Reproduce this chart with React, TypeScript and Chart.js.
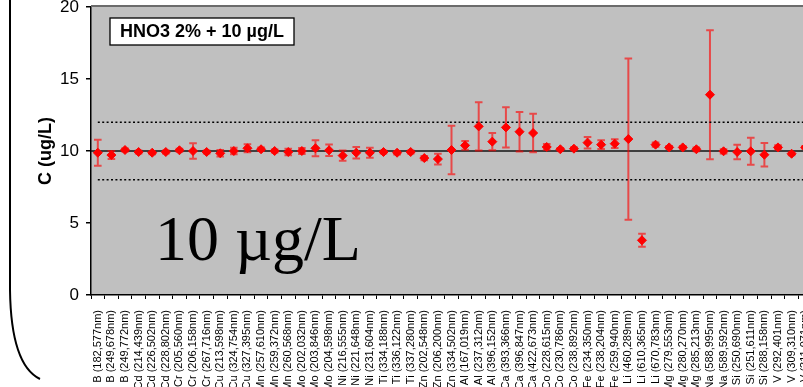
import React, { useEffect, useRef } from 'react';
import { Chart, registerables } from 'chart.js';

Chart.register(...registerables);

const categories = [
  'B (182,577nm)', 'B (249,678nm)', 'B (249,772nm)',
  'Cd (214,439nm)', 'Cd (226,502nm)', 'Cd (228,802nm)',
  'Cr (205,560nm)', 'Cr (206,158nm)', 'Cr (267,716nm)',
  'Cu (213,598nm)', 'Cu (324,754nm)', 'Cu (327,395nm)',
  'Mn (257,610nm)', 'Mn (259,372nm)', 'Mn (260,568nm)',
  'Mo (202,032nm)', 'Mo (203,846nm)', 'Mo (204,598nm)',
  'Ni (216,555nm)', 'Ni (221,648nm)', 'Ni (231,604nm)',
  'Ti (334,188nm)', 'Ti (336,122nm)', 'Ti (337,280nm)',
  'Zn (202,548nm)', 'Zn (206,200nm)', 'Zn (334,502nm)',
  'Al (167,019nm)', 'Al (237,312nm)', 'Al (396,152nm)',
  'Ca (393,366nm)', 'Ca (396,847nm)', 'Ca (422,673nm)',
  'Co (228,615nm)', 'Co (230,786nm)', 'Co (238,892nm)',
  'Fe (234,350nm)', 'Fe (238,204nm)', 'Fe (259,940nm)',
  'Li (460,289nm)', 'Li (610,365nm)', 'Li (670,783nm)',
  'Mg (279,553nm)', 'Mg (280,270nm)', 'Mg (285,213nm)',
  'Na (588,995nm)', 'Na (589,592nm)',
  'Si (250,690nm)', 'Si (251,611nm)', 'Si (288,158nm)',
  'V (292,401nm)', 'V (309,310nm)', 'V (311,071nm)',
];

const measured = [
  9.88, 9.72, 10.07,
  9.93, 9.88, 9.93,
  10.05, 10.0, 9.93,
  9.84, 10.0, 10.19,
  10.12, 10.0, 9.93,
  10.0, 10.19, 10.05,
  9.68, 9.88, 9.88,
  9.93, 9.88, 9.93,
  9.51, 9.44, 10.07,
  10.39, 11.71, 10.65,
  11.64, 11.34, 11.25,
  10.28, 10.12, 10.16,
  10.58, 10.44, 10.51,
  10.83, 3.8, 10.44,
  10.25, 10.25, 10.12,
  13.91, 9.98,
  9.93, 9.98, 9.74,
  10.25, 9.81, 10.25,
];

const errors = [
  0.9, 0.28, 0.1,
  0.1, 0.1, 0.1,
  0.1, 0.53, 0.1,
  0.23, 0.23, 0.28,
  0.12, 0.1, 0.23,
  0.2, 0.55, 0.4,
  0.35, 0.4, 0.35,
  0.1, 0.12, 0.1,
  0.15, 0.37, 1.69,
  0.3, 1.67, 0.6,
  1.39, 1.37, 1.34,
  0.2, 0.08, 0.1,
  0.4, 0.3, 0.3,
  5.6, 0.45, 0.15,
  0.1, 0.1, 0.13,
  4.48, 0.15,
  0.5, 0.94, 0.82,
  0.15, 0.1, 0.1,
];

const targetValue = 10;
const upperLimit = 12;
const lowerLimit = 8;
const yMin = 0;
const yMax = 20;
const yStep = 5;

const boxLabel = 'HNO3 2% + 10 µg/L';
const bigLabel = '10 µg/L';
const yTitle = 'C (ug/L)';

const SANS = '"Liberation Sans", Arial, Helvetica, sans-serif';
const SERIF = '"Liberation Serif", "Times New Roman", serif';

const decorPlugin = {
  id: 'decor',
  beforeDraw(chart: any) {
    const { ctx, chartArea: a } = chart;
    ctx.save();
    ctx.fillStyle = '#ffffff';
    ctx.fillRect(0, 0, chart.width, chart.height);
    ctx.fillStyle = '#c0c0c0';
    ctx.fillRect(a.left, a.top, a.right - a.left, a.bottom - a.top);
    ctx.restore();
  },
  beforeDatasetsDraw(chart: any) {
    const { ctx, chartArea: a, scales } = chart;
    const xs = scales.x;
    const ys = scales.y;
    ctx.save();
    const yt = ys.getPixelForValue(targetValue);
    ctx.strokeStyle = '#141414';
    ctx.lineWidth = 1.5;
    ctx.beginPath();
    ctx.moveTo(a.left, yt);
    ctx.lineTo(a.right, yt);
    ctx.stroke();
    ctx.strokeStyle = 'rgba(255,0,0,0.62)';
    ctx.lineWidth = 2;
    const cap = 3.8;
    for (let i = 0; i < measured.length; i++) {
      const x = xs.getPixelForValue(i);
      const yHi = ys.getPixelForValue(measured[i] + errors[i]);
      const yLo = ys.getPixelForValue(measured[i] - errors[i]);
      ctx.beginPath();
      ctx.moveTo(x, yHi);
      ctx.lineTo(x, yLo);
      ctx.moveTo(x - cap, yHi);
      ctx.lineTo(x + cap, yHi);
      ctx.moveTo(x - cap, yLo);
      ctx.lineTo(x + cap, yLo);
      ctx.stroke();
    }
    ctx.restore();
  },
  afterDraw(chart: any) {
    const { ctx, chartArea: a } = chart;
    ctx.save();
    ctx.strokeStyle = '#6b6b6b';
    ctx.lineWidth = 2;
    ctx.beginPath();
    ctx.moveTo(a.left, a.top - 1);
    ctx.lineTo(a.right, a.top - 1);
    ctx.stroke();

    const bx = a.left + 19;
    const by = a.top + 11;
    const bw = 184;
    const bh = 27;
    ctx.fillStyle = '#ffffff';
    ctx.fillRect(bx, by, bw, bh);
    ctx.strokeStyle = '#000';
    ctx.lineWidth = 1.3;
    ctx.strokeRect(bx, by, bw, bh);
    ctx.fillStyle = '#000';
    ctx.font = 'bold 18px ' + SANS;
    ctx.textAlign = 'center';
    ctx.textBaseline = 'middle';
    ctx.fillText(boxLabel, bx + bw / 2, by + bh / 2 + 1);

    ctx.font = '64px ' + SERIF;
    ctx.textAlign = 'left';
    ctx.textBaseline = 'alphabetic';
    ctx.fillText(bigLabel, a.left + 64, a.top + 253);

    ctx.strokeStyle = '#000';
    ctx.lineWidth = 2;
    ctx.beginPath();
    ctx.moveTo(10, 0);
    ctx.lineTo(10, 290);
    ctx.quadraticCurveTo(11, 365, 40, 379);
    ctx.stroke();
    ctx.restore();
  },
};

export default function App() {
  const ref = useRef<HTMLCanvasElement | null>(null);

  useEffect(() => {
    if (!ref.current) return;
    const chart = new Chart(ref.current, {
      type: 'line',
      data: {
        labels: categories,
        datasets: [
          {
            label: 'measured',
            data: measured,
            showLine: false,
            pointStyle: 'rectRot',
            pointRadius: 4.5,
            pointBackgroundColor: '#ff0000',
            pointBorderColor: '#ff0000',
            pointBorderWidth: 1,
            borderColor: '#ff0000',
            backgroundColor: '#ff0000',
          },
          {
            label: 'upper',
            data: categories.map(() => upperLimit),
            borderColor: '#000',
            borderWidth: 1.6,
            borderDash: [2, 2.4],
            pointRadius: 0,
            fill: false,
          },
          {
            label: 'lower',
            data: categories.map(() => lowerLimit),
            borderColor: '#000',
            borderWidth: 1.6,
            borderDash: [2, 2.4],
            pointRadius: 0,
            fill: false,
          },
        ],
      },
      options: {
        responsive: false,
        animation: false,
        devicePixelRatio: 1,
        layout: { padding: { top: 7, left: 0, right: 18, bottom: 0 } },
        plugins: {
          legend: { display: false },
          tooltip: { enabled: false },
        },
        scales: {
          x: {
            type: 'category',
            offset: true,
            ticks: {
              autoSkip: false,
              minRotation: 90,
              maxRotation: 90,
              color: '#000',
              padding: 11,
              font: { family: SANS, size: 11 },
            },
            grid: {
              offset: true,
              drawOnChartArea: false,
              drawTicks: true,
              tickLength: 4,
              color: '#000',
              lineWidth: 1,
            },
            border: { display: true, color: '#000', width: 1.5 },
            afterFit: (s: any) => {
              s.height = 92;
              s.paddingLeft = 0;
              s.paddingRight = 0;
            },
          },
          y: {
            type: 'linear',
            min: yMin,
            max: yMax,
            ticks: {
              stepSize: yStep,
              color: '#000',
              padding: 7,
              font: { family: SANS, size: 17 },
            },
            grid: {
              drawOnChartArea: false,
              drawTicks: true,
              tickLength: 5,
              color: '#000',
              lineWidth: 1.5,
            },
            border: { display: true, color: '#000', width: 1.5 },
            title: {
              display: true,
              text: yTitle,
              color: '#000',
              font: { family: SANS, size: 18, weight: 'bold' },
              padding: { top: 35, bottom: 0 },
            },
            afterFit: (s: any) => {
              s.width = 91;
              s.paddingTop = 0;
              s.paddingBottom = 0;
            },
          },
        },
      },
      plugins: [decorPlugin],
    } as any);
    return () => chart.destroy();
  }, []);

  return (
    <div
      style={{
        position: 'fixed',
        left: 0,
        top: 0,
        width: 803,
        height: 387,
        overflow: 'hidden',
        background: '#fff',
      }}
    >
      <canvas ref={ref} width={830} height={387} style={{ display: 'block', width: 830, height: 387 }} />
    </div>
  );
}
